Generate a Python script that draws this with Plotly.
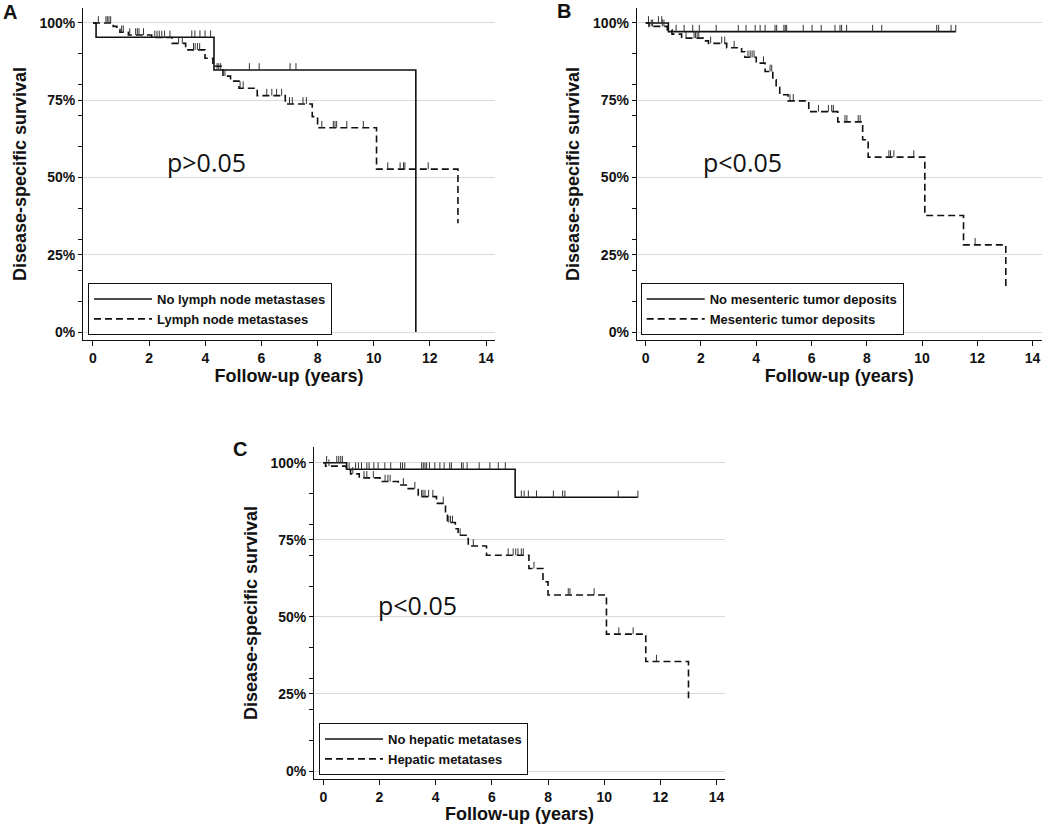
import plotly.graph_objects as go

# ---------------- DATA ----------------
# Panel A : lymph node metastases
A_no_evt_t = [0.11, 4.31, 11.50]
A_no_evt_s = [0.954, 0.848, 0.0]
A_no_cens = [3.52, 3.63, 3.81, 3.99, 4.19, 4.42, 4.48, 4.55, 5.57, 5.92, 7.02, 7.23]
A_no_end = 11.50

A_ln_evt_t = [0.72, 0.85, 0.96, 1.26, 2.09, 2.82, 3.30, 3.99, 4.27, 4.63, 4.90, 5.20, 5.85, 6.85, 7.81, 8.00, 10.10, 13.00]
A_ln_evt_s = [0.989, 0.979, 0.970, 0.961, 0.953, 0.934, 0.913, 0.886, 0.860, 0.828, 0.812, 0.789, 0.765, 0.738, 0.697, 0.661, 0.527, 0.352]
A_ln_cens = [0.19, 0.46, 0.51, 0.57, 0.63, 1.02, 1.08, 1.31, 1.52, 1.58, 1.64, 1.80, 2.20, 2.28, 2.36,
             2.45, 2.55, 2.74, 3.05, 3.18, 3.58, 3.64, 3.72, 3.80, 4.70, 5.24, 5.35, 6.19, 6.37, 6.54,
             6.72, 7.00, 7.10, 7.48, 7.60, 8.15, 8.56, 8.62, 8.68, 9.04, 9.63, 10.50, 10.94, 11.06,
             11.11, 11.94]
A_ln_end = 13.00

# Panel B : mesenteric tumor deposits
B_no_evt_t = [0.82]
B_no_evt_s = [0.972]
B_no_cens = [0.10, 0.46, 0.58, 1.10, 1.39, 1.70, 1.94, 2.55, 3.35, 3.63, 3.96, 4.14, 4.32, 4.68, 4.74,
             5.00, 5.05, 5.10, 5.70, 6.02, 6.35, 6.85, 7.03, 7.09, 7.27, 8.21, 8.54, 10.53, 10.60,
             11.05, 11.22]
B_no_end = 11.22

B_md_evt_t = [0.12, 0.78, 0.95, 1.30, 2.08, 2.27, 2.93, 3.47, 3.59, 4.00, 4.32, 4.60, 4.72, 4.85,
              5.15, 5.90, 6.95, 7.85, 8.05, 10.10, 11.50, 13.03]
B_md_evt_s = [0.989, 0.978, 0.964, 0.951, 0.942, 0.934, 0.920, 0.907, 0.889, 0.870, 0.843, 0.816,
              0.792, 0.768, 0.748, 0.713, 0.680, 0.622, 0.566, 0.377, 0.282, 0.142]
B_md_cens = [0.20, 0.25, 0.60, 0.66, 1.46, 1.75, 1.80, 1.86, 1.92, 2.35, 2.75, 2.86, 3.20, 3.70, 3.78,
             3.85, 3.92, 4.26, 4.50, 4.56, 5.22, 5.34, 6.25, 6.61, 6.73, 6.79, 7.21, 7.28, 7.69, 7.76,
             8.80, 8.86, 8.98, 9.70, 11.92]
B_md_end = 13.03

# Panel C : hepatic metastases
C_no_evt_t = [0.83, 6.83]
C_no_evt_s = [0.979, 0.888]
C_no_cens = [0.12, 0.48, 0.55, 0.62, 0.68, 0.92, 1.15, 1.25, 1.36, 1.55, 1.63, 1.80, 1.95, 2.19, 2.40,
             2.75, 2.82, 2.90, 3.50, 3.56, 3.62, 3.68, 3.78, 3.97, 4.15, 4.30, 4.50, 4.56, 4.92, 4.98,
             5.12, 5.55, 5.93, 6.23, 6.48, 7.05, 7.15, 7.30, 7.59, 8.19, 8.52, 8.60, 10.50, 11.20]
C_no_end = 11.20

C_hm_evt_t = [0.08, 0.82, 0.97, 1.28, 2.02, 2.67, 2.99, 3.38, 4.03, 4.35, 4.42, 4.70, 4.80, 5.16,
              5.81, 7.32, 7.82, 8.00, 10.08, 11.48, 13.00]
C_hm_evt_s = [0.989, 0.977, 0.964, 0.951, 0.939, 0.928, 0.916, 0.890, 0.868, 0.836, 0.806, 0.786,
              0.765, 0.730, 0.700, 0.657, 0.614, 0.571, 0.444, 0.355, 0.236]
C_hm_cens = [0.20, 1.05, 1.45, 1.55, 1.78, 2.20, 2.30, 2.38, 2.85, 3.26, 3.50, 3.55, 3.62, 3.75, 3.90,
             4.27, 4.47, 4.53, 4.60, 4.87, 5.34, 6.58, 6.76, 6.85, 6.93, 7.05, 7.12, 7.50, 8.72, 8.78,
             9.64, 10.52, 11.03, 11.86]
C_hm_end = 13.00

x_ticks = [0, 2, 4, 6, 8, 10, 12, 14]
y_ticks = [0, 0.25, 0.5, 0.75, 1.0]
y_ticktext = ["0%", "25%", "50%", "75%", "100%"]

labels = {
    "A": ("No lymph node metastases", "Lymph node metastases", "p>0.05"),
    "B": ("No mesenteric tumor deposits", "Mesenteric tumor deposits", "p<0.05"),
    "C": ("No hepatic metatases", "Hepatic metatases", "p<0.05"),
}
p_pos = {"A": (4.05, 0.55), "B": (3.52, 0.55), "C": (3.35, 0.54)}

# ---------------- HELPERS ----------------
LINE_COL = "#111111"
DASH = "7px,4px"
BOLD = dict(family="Liberation Sans, Arial, sans-serif", color="#111111", weight="bold")


def km_xy(evt_t, evt_s, end_t):
    xs = [0.0] + list(evt_t)
    ys = [1.0] + list(evt_s)
    if end_t > xs[-1]:
        xs.append(end_t)
        ys.append(ys[-1])
    return xs, ys


def level_at(t, evt_t, evt_s):
    s = 1.0
    for et, es in zip(evt_t, evt_s):
        if et <= t:
            s = es
    return s


def censor_xy(cens, evt_t, evt_s, h=0.022):
    xs, ys = [], []
    for c in cens:
        lv = level_at(c, evt_t, evt_s)
        xs += [c, c, None]
        ys += [lv, lv + h, None]
    return xs, ys


fig = go.Figure()

panels = [
    ("A", "x", "y", "legend",
     (A_no_evt_t, A_no_evt_s, A_no_cens, A_no_end),
     (A_ln_evt_t, A_ln_evt_s, A_ln_cens, A_ln_end)),
    ("B", "x2", "y2", "legend2",
     (B_no_evt_t, B_no_evt_s, B_no_cens, B_no_end),
     (B_md_evt_t, B_md_evt_s, B_md_cens, B_md_end)),
    ("C", "x3", "y3", "legend3",
     (C_no_evt_t, C_no_evt_s, C_no_cens, C_no_end),
     (C_hm_evt_t, C_hm_evt_s, C_hm_cens, C_hm_end)),
]

for key, xa, ya, lg, g0, g1 in panels:
    name0, name1, ptxt = labels[key]
    for (et, es, cens, end), name, dash in ((g0, name0, "solid"), (g1, name1, DASH)):
        xs, ys = km_xy(et, es, end)
        fig.add_trace(go.Scatter(
            x=xs, y=ys, mode="lines", line=dict(shape="hv", color=LINE_COL, width=1.6, dash=dash),
            name=name, xaxis=xa, yaxis=ya, legend=lg, hoverinfo="skip"))
        cx, cy = censor_xy(cens, et, es)
        fig.add_trace(go.Scatter(
            x=cx, y=cy, mode="lines", line=dict(color="#333333", width=1),
            showlegend=False, xaxis=xa, yaxis=ya, hoverinfo="skip"))
    px_, py_ = p_pos[key]
    fig.add_annotation(x=px_, y=py_, xref=xa, yref=ya, text=ptxt, showarrow=False,
                       font=dict(family="Open Sans, Noto Sans, sans-serif", size=25, color="#111111"))

W, H = 1050, 824
domains = {
    "A": ((83, 495), (8, 340), (-0.356, 14.32), (-0.0259, 1.0485)),
    "B": ((636.7, 1042), (8, 340), (-0.326, 14.34), (-0.0259, 1.0485)),
    "C": ((314, 725), (446.7, 779.3), (-0.331, 14.30), (-0.0269, 1.052)),
}
axis_names = {"A": ("xaxis", "yaxis", "y", "x"), "B": ("xaxis2", "yaxis2", "y2", "x2"),
              "C": ("xaxis3", "yaxis3", "y3", "x3")}

layout_axes = {}
for key, ((xl, xr), (yt, yb), xr_rng, yr_rng) in domains.items():
    xn, yn, yanc, xanc = axis_names[key]
    layout_axes[xn] = dict(
        domain=[xl / W, xr / W], range=list(xr_rng), anchor=yanc, automargin=False,
        tickmode="array", tickvals=x_ticks, ticks="outside", ticklen=5, tickwidth=1, tickcolor="#111",
        showline=True, linecolor="#111", linewidth=1, showgrid=False, zeroline=False,
        tickfont=dict(size=14, **BOLD),
        title=dict(text="Follow-up (years)", font=dict(size=18, **BOLD), standoff=0),
    )
    layout_axes[yn] = dict(
        domain=[1 - yb / H, 1 - yt / H], range=list(yr_rng), anchor=xanc, automargin=False,
        tickmode="array", tickvals=y_ticks, ticktext=y_ticktext, ticks="outside", ticklen=4,
        tickwidth=1, tickcolor="#111",
        minor=dict(tickmode="linear", tick0=0, dtick=0.1, ticks="outside", ticklen=4,
                   tickcolor="#111", showgrid=False),
        showline=True, linecolor="#111", linewidth=1,
        showgrid=True, gridcolor="#d9d9d9", gridwidth=1,
        zeroline=True, zerolinecolor="#d9d9d9", zerolinewidth=1,
        tickfont=dict(size=14, **BOLD),
        title=dict(text="Disease-specific survival", font=dict(size=18, **BOLD), standoff=8),
    )

legend_common = dict(
    bgcolor="white", bordercolor="#111", borderwidth=1, font=dict(size=13, **BOLD),
    xanchor="left", yanchor="bottom", itemwidth=58, tracegroupgap=0, itemclick=False,
)

fig.update_layout(
    width=W, height=H, autosize=False,
    margin=dict(l=0, r=0, t=0, b=0, autoexpand=False),
    paper_bgcolor="white", plot_bgcolor="white",
    showlegend=True,
    legend=dict(x=88 / W, y=1 - 335 / H, **legend_common),
    legend2=dict(x=640.7 / W, y=1 - 335 / H, **legend_common),
    legend3=dict(x=319 / W, y=1 - 775 / H, **legend_common),
    **layout_axes,
)

for letter, (lx, ly) in {"A": (10, 12), "B": (564, 11), "C": (240, 449)}.items():
    fig.add_annotation(x=lx / W, y=1 - ly / H, xref="paper", yref="paper", text=letter,
                       showarrow=False, xanchor="center", yanchor="middle",
                       font=dict(size=20, **BOLD))

fig.write_html("out.html", config={"displayModeBar": False},
               post_script="document.body.style.margin='0';")
